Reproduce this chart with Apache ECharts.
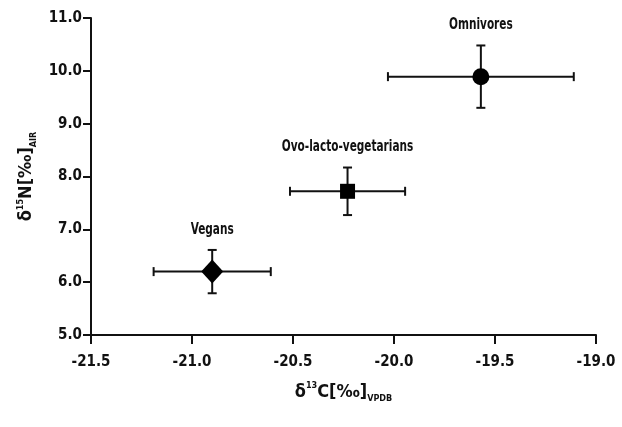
<!DOCTYPE html>
<html><head><meta charset="utf-8">
<script src="https://cdn.jsdelivr.net/npm/echarts@6/dist/echarts.min.js"></script>
<style>html,body{margin:0;background:#fff}#c{width:622px;height:427px}</style>
</head><body><div id="c"></div>
<script>
const groups = ['Vegans', 'Ovo-lacto-vegetarians', 'Omnivores'];
const carbonMean = [-20.90, -20.23, -19.57];
const carbonErr = [0.29, 0.285, 0.46];
const nitrogenMean = [6.20, 7.72, 9.89];
const nitrogenErr = [0.41, 0.45, 0.59];
const symbols = ['diamond', 'rect', 'circle'];
const symbolSizes = [[22, 24], 15, 17];

const FONT = "'Liberation Sans Narrow', 'DejaVu Sans Condensed', 'DejaVu Sans', sans-serif";
const INK = '#111';

const chart = echarts.init(document.getElementById('c'), null, {renderer: 'canvas'});

const errData = groups.map((g, i) => [carbonMean[i], nitrogenMean[i], carbonErr[i], nitrogenErr[i]]);

function renderErr(params, api) {
  const x = api.value(0), y = api.value(1), xe = api.value(2), ye = api.value(3);
  const name = groups[params.dataIndex];
  const l = api.coord([x - xe, y]), r = api.coord([x + xe, y]);
  const t = api.coord([x, y + ye]), b = api.coord([x, y - ye]);
  const c = 4.5;
  const st = {stroke: INK, lineWidth: 2};
  const line = (x1, y1, x2, y2) => ({type: 'line', shape: {x1, y1, x2, y2}, style: st});
  return {
    type: 'group',
    children: [
      line(l[0], l[1], r[0], r[1]),
      line(l[0], l[1] - c, l[0], l[1] + c),
      line(r[0], r[1] - c, r[0], r[1] + c),
      line(t[0], t[1], b[0], b[1]),
      line(t[0] - c, t[1], t[0] + c, t[1]),
      line(b[0] - c, b[1], b[0] + c, b[1]),
      {type: 'text', x: t[0], y: t[1] - 20, scaleX: 0.78,
       style: {text: name, fill: INK, font: 'bold 15px ' + FONT, align: 'center', verticalAlign: 'middle'}}
    ]
  };
}

const scatterSeries = groups.map((g, i) => ({
  type: 'scatter',
  name: g,
  symbol: symbols[i],
  symbolSize: symbolSizes[i],
  itemStyle: {color: '#000', opacity: 1},
  z: 5,
  data: [[carbonMean[i], nitrogenMean[i]]]
}));

const labelStyle = {color: INK, fontFamily: FONT, fontSize: 15, fontWeight: 'bold'};
const titleRich = {
  d: {fontFamily: FONT, fontSize: 18, fontWeight: 'bold', color: INK, lineHeight: 22},
  sup: {fontFamily: FONT, fontSize: 9, fontWeight: 'bold', color: INK, verticalAlign: 'top', lineHeight: 22, padding: [0, 0, 10, 0]},
  sub: {fontFamily: FONT, fontSize: 9, fontWeight: 'bold', color: INK, verticalAlign: 'bottom', lineHeight: 22, padding: [10, 0, 0, 0]}
};

chart.setOption({
  animation: false,
  backgroundColor: '#fff',
  grid: {left: 91, right: 26, top: 18, bottom: 92},
  xAxis: {
    type: 'value', min: -21.5, max: -19.0, interval: 0.5,
    axisLine: {onZero: false, lineStyle: {color: INK, width: 2}},
    axisTick: {length: 9, lineStyle: {color: INK, width: 2}},
    splitLine: {show: false},
    axisLabel: Object.assign({margin: 20, formatter: v => v.toFixed(1)}, labelStyle),
    name: '{d|δ}{sup|13}{d|C[‰]}{sub|VPDB}',
    nameLocation: 'middle', nameGap: 46,
    nameTextStyle: {rich: titleRich}
  },
  yAxis: {
    type: 'value', min: 5, max: 11, interval: 1,
    axisLine: {onZero: false, lineStyle: {color: INK, width: 2}},
    axisTick: {length: 8, lineStyle: {color: INK, width: 2}},
    splitLine: {show: false},
    axisLabel: Object.assign({margin: 9, formatter: v => v.toFixed(1)}, labelStyle),
    name: '{d|δ}{sup|15}{d|N[‰]}{sub|AIR}',
    nameLocation: 'middle', nameGap: 50, nameRotate: 90,
    nameTextStyle: {rich: titleRich}
  },
  series: [{
    type: 'custom',
    renderItem: renderErr,
    encode: {x: 0, y: 1},
    data: errData,
    z: 3,
    silent: true
  }].concat(scatterSeries)
});
</script>
</body></html>
